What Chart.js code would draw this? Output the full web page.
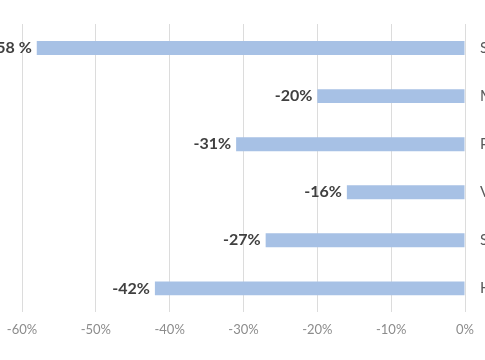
<!DOCTYPE html>
<html>
<head>
<meta charset="utf-8">
<script src="https://cdn.jsdelivr.net/npm/chart.js@4"></script>
<style>
  html, body { margin: 0; padding: 0; background: #fff; }
  #frame { position: relative; width: 485px; height: 360px; overflow: hidden; }
  #inner { position: absolute; left: -60px; top: 0; width: 625px; height: 360px; }
</style>
</head>
<body>
<div id="frame"><div id="inner"><canvas id="chart"></canvas></div></div>
<script>
const categories = ['Sweden', 'Mexico', 'Poland', 'Vietnam', 'Spain', 'Hungary'];
const changes = [-58, -20, -31, -16, -27, -42];
const changeLabels = ['-58 %', '-20%', '-31%', '-16%', '-27%', '-42%'];

// labels next to the end of each bar
const barLabels = {
  id: 'barLabels',
  afterDatasetsDraw(chart) {
    const ctx = chart.ctx;
    const meta = chart.getDatasetMeta(0);
    ctx.save();
    ctx.font = 'bold 16px Lato';
    ctx.fillStyle = '#404040';
    ctx.textAlign = 'right';
    ctx.textBaseline = 'middle';
    meta.data.forEach((bar, i) => {
      ctx.fillText(changeLabels[i], bar.x - 5, bar.y);
    });
    ctx.restore();
  }
};

new Chart(document.getElementById('chart'), {
  type: 'bar',
  data: {
    labels: categories,
    datasets: [{
      data: changes,
      backgroundColor: '#a7c1e5',
      barPercentage: 0.29,
      categoryPercentage: 1
    }]
  },
  plugins: [barLabels],
  options: {
    indexAxis: 'y',
    responsive: true,
    maintainAspectRatio: false,
    animation: false,
    layout: { padding: { left: 82, top: 23, bottom: 12, right: 0 } },
    plugins: {
      legend: { display: false },
      tooltip: { enabled: false }
    },
    scales: {
      x: {
        min: -60,
        max: 0,
        ticks: {
          stepSize: 10,
          color: '#8c8c8c',
          font: { family: 'Lato', size: 13 },
          padding: 10,
          callback: v => v + '%'
        },
        grid: { color: '#dcdcdc', drawTicks: false },
        border: { display: false }
      },
      y: {
        position: 'right',
        afterFit: scale => { scale.width = 100; },
        ticks: {
          color: '#595959',
          font: { family: 'Lato', size: 15 },
          padding: 15
        },
        grid: { display: false, drawTicks: false },
        border: { display: false }
      }
    }
  }
});
</script>
</body>
</html>
